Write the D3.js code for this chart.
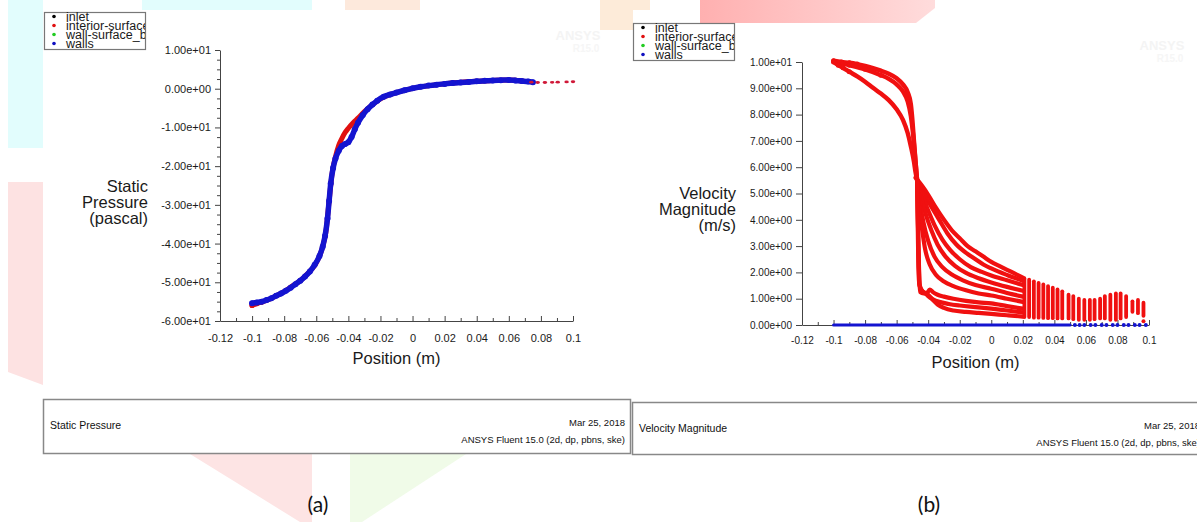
<!DOCTYPE html>
<html>
<head>
<meta charset="utf-8">
<script src="https://cdn.jsdelivr.net/npm/d3@7"></script>
<style>
  html, body { margin: 0; padding: 0; background: #fff; }
  svg { display: block; font-family: "Liberation Sans", Arial, sans-serif; }
</style>
</head>
<body>
<svg id="chart" width="1197" height="522"></svg>
<script>
(function() {
    'use strict';

    // ---- DATA ----
    const positionTicks = [-0.12, -0.1, -0.08, -0.06, -0.04, -0.02, 0, 0.02, 0.04, 0.06, 0.08, 0.1];
    const pressureTicks = [10, 0, -10, -20, -30, -40, -50, -60];
    const velocityTicks = [10, 9, 8, 7, 6, 5, 4, 3, 2, 1, 0];
    const legendNames = ["inlet", "interior-surface", "wall-surface_body", "walls"];
    const legendColors = ["#000000", "#e01010", "#22cc22", "#1010c0"];

    // (a) static pressure [position m, pressure Pa]
    const pressureInterior = [[-0.1,-56.0],[-0.097,-55.5],[-0.094,-55.1],[-0.09,-54.5],[-0.085,-53.5],[-0.08,-52.4],
        [-0.075,-51.0],[-0.07,-49.6],[-0.065,-47.6],[-0.06,-45.0],[-0.056,-40.8],[-0.054,-37],[-0.052,-29],
        [-0.05,-21.5],[-0.048,-17.5],[-0.046,-14.6],[-0.044,-12.8],[-0.042,-11.3],[-0.04,-10.2],[-0.037,-8.8],
        [-0.034,-7.6],[-0.03,-5.9],[-0.025,-4.1],[-0.02,-2.6],[-0.01,-1.0],[0,0.1],[0.02,1.25],[0.04,1.9],[0.06,2.25],[0.07,1.9]];
    const pressureInteriorTail = [[0.074,1.7],[0.078,1.6],[0.0825,1.6],[0.087,1.65],[0.0905,1.7],[0.096,1.75],[0.1,1.8]];
    const pressureWalls = [[-0.1,-55.4],[-0.097,-55.2],[-0.094,-55.0],[-0.091,-54.6],[-0.088,-54.1],[-0.085,-53.5],
        [-0.082,-52.9],[-0.079,-52.2],[-0.076,-51.4],[-0.073,-50.5],[-0.07,-49.6],[-0.067,-48.5],[-0.064,-47.2],
        [-0.061,-45.5],[-0.058,-43.2],[-0.056,-40.8],[-0.0545,-38],[-0.053,-33.5],[-0.052,-29],[-0.051,-24.5],
        [-0.0495,-20.5],[-0.048,-18],[-0.046,-16],[-0.044,-14.8],[-0.042,-14.3],[-0.04,-13.8],[-0.038,-12.5],
        [-0.036,-10.5],[-0.034,-8.8],[-0.031,-6.8],[-0.028,-5.3],[-0.025,-4.1],[-0.022,-3.1],[-0.018,-2.1],
        [-0.014,-1.5],[-0.01,-1.0],[-0.005,-0.4],[0,0.1],[0.005,0.5],[0.01,0.8],[0.015,1.05],[0.02,1.25],
        [0.025,1.45],[0.03,1.6],[0.035,1.75],[0.04,1.9],[0.045,2.05],[0.05,2.15],[0.055,2.2],[0.06,2.25],
        [0.064,2.15],[0.068,2.0],[0.072,1.85],[0.075,1.7]];

    // (b) velocity magnitude [position m, velocity m/s]
    const velUpperTop = [[-0.1,10.05],[-0.095,10.0],[-0.09,9.97],[-0.085,9.92],[-0.08,9.85],[-0.075,9.77],[-0.07,9.67],
        [-0.065,9.55],[-0.06,9.38],[-0.056,9.15],[-0.053,8.85],[-0.051,8.4],[-0.05,7.8],[-0.049,7.0],[-0.048,6.2],[-0.047,5.5]];
    const velUpperMid = [[-0.097,9.98],[-0.09,9.88],[-0.08,9.72],[-0.07,9.5],[-0.065,9.36],[-0.06,9.15],[-0.056,8.88],
        [-0.053,8.5],[-0.051,7.95],[-0.0495,7.2],[-0.048,6.2],[-0.047,5.5]];
    const velUpperInner = [[-0.1,10.0],[-0.097,9.88],[-0.094,9.78],[-0.09,9.63],[-0.085,9.45],[-0.08,9.25],[-0.075,9.02],
        [-0.07,8.8],[-0.065,8.55],[-0.06,8.2],[-0.056,7.8],[-0.053,7.3],[-0.051,6.8],[-0.049,6.2],[-0.048,5.8],[-0.047,5.5]];
    const velFan = [
        [[-0.048,5.6],[-0.044,5.3],[-0.04,4.95],[-0.035,4.45],[-0.03,4.0],[-0.025,3.6],[-0.02,3.3],[-0.015,3.0],[-0.01,2.8],[-0.005,2.6],[0,2.4],[0.005,2.25],[0.01,2.1],[0.015,1.95],[0.02,1.8]],
        [[-0.047,5.5],[-0.043,5.0],[-0.038,4.5],[-0.033,4.0],[-0.028,3.5],[-0.022,3.05],[-0.015,2.7],[-0.01,2.5],[-0.005,2.3],[0,2.15],[0.01,1.9],[0.02,1.68]],
        [[-0.047,5.5],[-0.044,5.0],[-0.04,4.35],[-0.036,3.8],[-0.031,3.25],[-0.026,2.85],[-0.02,2.5],[-0.013,2.2],[-0.006,2.02],[0,1.88],[0.01,1.7],[0.02,1.52]],
        [[-0.047,5.5],[-0.045,5.0],[-0.042,4.3],[-0.038,3.6],[-0.034,3.05],[-0.029,2.6],[-0.023,2.25],[-0.016,1.98],[-0.008,1.78],[0,1.62],[0.01,1.45],[0.02,1.3]],
        [[-0.047,5.5],[-0.045,4.6],[-0.043,3.9],[-0.04,3.2],[-0.036,2.6],[-0.031,2.2],[-0.025,1.92],[-0.018,1.7],[-0.01,1.52],[0,1.38],[0.01,1.22],[0.02,1.08]],
        [[-0.047,5.5],[-0.046,4.6],[-0.044,3.7],[-0.042,2.9],[-0.039,2.3],[-0.035,1.9],[-0.03,1.65],[-0.024,1.48],[-0.016,1.32],[-0.008,1.2],[0,1.12],[0.01,1.0],[0.02,0.88]],
        [[-0.047,5.5],[-0.0465,4.0],[-0.046,2.6],[-0.0455,1.6],[-0.045,1.25],[-0.043,1.2],[-0.041,1.2],[-0.039,1.35],[-0.037,1.25],[-0.034,1.15],[-0.03,1.08],[-0.024,1.0],[-0.016,0.92],[-0.008,0.86],[0,0.82],[0.01,0.72],[0.02,0.62]],
        [[-0.047,5.5],[-0.0465,3.9],[-0.046,2.4],[-0.0455,1.55],[-0.044,1.3],[-0.042,1.22],[-0.04,1.1],[-0.037,0.98],[-0.033,0.88],[-0.027,0.8],[-0.02,0.74],[-0.01,0.68],[0,0.62],[0.01,0.55],[0.02,0.48]],
        [[-0.047,5.5],[-0.0466,3.8],[-0.0462,2.2],[-0.0455,1.5],[-0.043,1.25],[-0.04,1.15],[-0.037,0.95],[-0.034,0.78],[-0.03,0.65],[-0.024,0.55],[-0.016,0.5],[-0.008,0.46],[0,0.42],[0.01,0.37],[0.02,0.32]]
    ];
    // stacked dot columns near the outlet
    const velColumnX      = [0.021,0.024,0.027,0.030,0.033,0.036,0.039,0.042,0.045,0.049,0.052,0.0555,0.059,0.0625,0.0655,0.069,0.072,0.0755,0.079,0.082,0.0855,0.0895,0.093,0.0965];
    const velColumnTop    = [1.78,1.72,1.66,1.6,1.54,1.48,1.42,1.35,1.28,1.15,1.1,1.0,0.95,0.95,0.95,1.0,1.1,1.15,1.2,1.2,1.1,0.9,0.95,0.85];
    const velColumnBottom = [0.3,0.3,0.28,0.28,0.27,0.26,0.26,0.25,0.25,0.25,0.22,0.2,0.2,0.2,0.22,0.25,0.25,0.2,0.2,0.25,0.3,0.5,0.45,0.35];
    const velInteriorDots = [[0.0965,0.14]];
    const velWallsLine = [[-0.1,0],[0.05,0]];
    const velWallsDots = [[0.053,0],[0.056,0],[0.059,0],[0.063,0],[0.066,0],[0.07,0],[0.073,0],[0.077,0],[0.08,0],[0.084,0],[0.087,0],[0.091,0],[0.094,0],[0.098,0]];

    const svg = d3.select("#chart");

    // ---- BACKGROUND WATERMARK SHAPES ----
    const defs = svg.append("defs");
    const grad = defs.append("linearGradient").attr("id", "pinkband").attr("x1", 0).attr("x2", 1);
    grad.append("stop").attr("offset", "0%").attr("stop-color", "#ffb0b0");
    grad.append("stop").attr("offset", "100%").attr("stop-color", "#ffdcdc");
    const shapes = [
        { pts: [[8,0],[43,0],[43,148],[8,148]], fill: "#e2fdfd" },
        { pts: [[142,0],[312,0],[312,10],[142,10]], fill: "#e2fdfd" },
        { pts: [[345,0],[420,0],[420,10],[345,10]], fill: "#fde9dc" },
        { pts: [[8,182],[43,182],[43,385],[8,372]], fill: "#fde2e2" },
        { pts: [[190,454],[312,454],[312,522],[300,522]], fill: "#fde4e4" },
        { pts: [[350,454],[466,454],[362,522],[350,522]], fill: "#f0fbe8" },
        { pts: [[600,0],[650,0],[650,10],[633,10],[633,30],[600,30]], fill: "#fdebd9" },
        { pts: [[700,0],[935,0],[935,8],[916,23],[700,23]], fill: "url(#pinkband)" }
    ];
    svg.append("g").selectAll("polygon").data(shapes).enter().append("polygon")
        .attr("points", d => d.pts.map(p => p.join(",")).join(" "))
        .attr("fill", d => d.fill);

    // faint ANSYS logos
    [[578, 40], [1162, 50]].forEach(([cx, cy]) => {
        svg.append("text").attr("x", cx).attr("y", cy).attr("text-anchor", "middle")
            .style("font", "bold 13px 'Liberation Sans'").style("fill", "#f4f4f4").text("ANSYS");
        svg.append("text").attr("x", cx + 8).attr("y", cy + 12).attr("text-anchor", "middle")
            .style("font", "bold 10px 'Liberation Sans'").style("fill", "#f6f6f6").text("R15.0");
    });

    // ---- HELPERS ----
    function sci(d) {
        return d3.format(".2e")(d).replace("\u2212", "-").replace(/e([+-])(\d)$/, "e$10$2");
    }
    function pos(d) { return String(+d.toFixed(2)); }

    function styleAxis(g, size) {
        g.selectAll("path, line").attr("stroke", "#444").attr("stroke-width", 1);
        g.selectAll("text").style("font-size", size + "px").style("fill", "#1a1a1a")
            .style("font-family", "'Liberation Sans', Arial, sans-serif");
    }

    function drawAxes(x, y, o) {
        const y0 = y.range()[0];
        const x0 = x.range()[0];
        // minor x ticks
        const gxm = svg.append("g").attr("transform", `translate(0,${y0})`)
            .call(d3.axisBottom(x).tickValues(d3.range(-0.11, 0.1, 0.02)).tickFormat("").tickSizeInner(-3).tickSizeOuter(0));
        gxm.select(".domain").remove();
        styleAxis(gxm, o.tickFont);
        const gx = svg.append("g").attr("transform", `translate(0,${y0})`)
            .call(d3.axisBottom(x).tickValues(positionTicks).tickFormat(pos)
                .tickSizeInner(-5).tickSizeOuter(0).tickPadding(o.xPad));
        styleAxis(gx, o.tickFont);

        if (o.yMinor) {
            const gym = svg.append("g").attr("transform", `translate(${x0},0)`)
                .call(d3.axisLeft(y).tickValues(o.yMinor).tickFormat("").tickSizeInner(3).tickSizeOuter(0));
            gym.select(".domain").remove();
            styleAxis(gym, o.tickFont);
        }
        const gy = svg.append("g").attr("transform", `translate(${x0},0)`)
            .call(d3.axisLeft(y).tickValues(o.yTicks).tickFormat(sci)
                .tickSizeInner(o.yTick).tickSizeOuter(0).tickPadding(4));
        styleAxis(gy, o.tickFont);

        // x title
        svg.append("text").attr("x", d3.mean(x.range())).attr("y", o.xTitleY)
            .attr("text-anchor", "middle").attr("dy", "0.35em")
            .style("font-size", "16.5px").style("fill", "#1a1a1a").text("Position (m)");
        // y title (three right-aligned lines)
        o.yTitle.forEach((t, i) => {
            svg.append("text").attr("x", o.yTitleX).attr("y", o.yTitleY + i * 16)
                .attr("text-anchor", "end").attr("dy", "0.35em")
                .style("font-size", "16.5px").style("fill", "#1a1a1a").text(t);
        });
    }

    function drawLegend(bx, by, id) {
        const w = 101, h = 37;
        defs.append("clipPath").attr("id", id).append("rect")
            .attr("x", bx).attr("y", by).attr("width", w).attr("height", h);
        const g = svg.append("g");
        g.append("rect").attr("x", bx + 0.5).attr("y", by + 0.5).attr("width", w).attr("height", h)
            .attr("fill", "#fff").attr("stroke", "#777").attr("stroke-width", 1.2);
        const items = g.append("g").attr("clip-path", `url(#${id})`);
        legendNames.forEach((name, i) => {
            const cy = by + 4.5 + i * 9;
            items.append("circle").attr("cx", bx + 10).attr("cy", cy).attr("r", 1.8).attr("fill", legendColors[i]);
            items.append("text").attr("x", bx + 22).attr("y", cy).attr("dy", "0.35em")
                .style("font-size", "12.5px").style("fill", "#1a1a1a").text(name);
        });
    }

    function drawTitleBox(x, y, w, h, title, right) {
        svg.append("rect").attr("x", x + 0.5).attr("y", y + 0.5).attr("width", w).attr("height", h)
            .attr("fill", "#fff").attr("stroke", "#888").attr("stroke-width", 1.5);
        svg.append("text").attr("x", x + 7).attr("y", y + 26).attr("dy", "0.35em")
            .style("font-size", "10.5px").style("fill", "#111").text(title);
        svg.append("text").attr("x", right).attr("y", y + 24).attr("dy", "0.35em").attr("text-anchor", "end")
            .style("font-size", "9.5px").style("fill", "#111").text("Mar 25, 2018");
        svg.append("text").attr("x", right).attr("y", y + 41).attr("dy", "0.35em").attr("text-anchor", "end")
            .style("font-size", "9.5px").style("fill", "#111").text("ANSYS Fluent 15.0 (2d, dp, pbns, ske)");
    }

    // ---- PANEL (a): STATIC PRESSURE ----
    const xP = d3.scaleLinear().domain([-0.12, 0.1]).range([220, 573]);
    const yP = d3.scaleLinear().domain([-60, 10]).range([321, 50]);
    const lineP = d3.line().x(d => xP(d[0])).y(d => yP(d[1])).curve(d3.curveMonotoneX);

    drawAxes(xP, yP, {
        tickFont: 11, xPad: 13, yTicks: pressureTicks, yTick: 5,
        yMinor: d3.range(-60, 10.01, 2.5).filter(v => v % 10 !== 0),
        xTitleY: 358, yTitle: ["Static", "Pressure", "(pascal)"], yTitleX: 148, yTitleY: 186
    });

    svg.append("path").datum(pressureInterior).attr("d", lineP)
        .attr("fill", "none").attr("stroke", "#e01010").attr("stroke-width", 5).attr("stroke-linecap", "round");
    svg.append("g").selectAll("circle").data(pressureInterior.slice(0, 3)).enter().append("circle")
        .attr("cx", d => xP(d[0])).attr("cy", d => yP(d[1])).attr("r", 2.6).attr("fill", "#e01010");
    svg.append("path").datum(pressureWalls).attr("d", lineP)
        .attr("fill", "none").attr("stroke", "#1414d0").attr("stroke-width", 5.5).attr("stroke-linecap", "round");
    svg.append("g").selectAll("circle").data(pressureWalls).enter().append("circle")
        .attr("cx", d => xP(d[0])).attr("cy", d => yP(d[1])).attr("r", 3).attr("fill", "#1414d0");
    svg.append("g").selectAll("ellipse").data(pressureInteriorTail).enter().append("ellipse")
        .attr("cx", d => xP(d[0])).attr("cy", d => yP(d[1])).attr("rx", 2.2).attr("ry", 1.4).attr("fill", "#d01838");

    drawLegend(44, 12, "legA");

    // ---- PANEL (b): VELOCITY MAGNITUDE ----
    const xV = d3.scaleLinear().domain([-0.12, 0.1]).range([802, 1149]);
    const yV = d3.scaleLinear().domain([0, 10]).range([325, 62]);
    const lineV = d3.line().x(d => xV(d[0])).y(d => yV(d[1])).curve(d3.curveMonotoneX);

    drawAxes(xV, yV, {
        tickFont: 10, xPad: 11.5, yTicks: velocityTicks, yTick: 6, yMinor: null,
        xTitleY: 362, yTitle: ["Velocity", "Magnitude", "(m/s)"], yTitleX: 736, yTitleY: 193
    });

    const red = "#f01010";
    [velUpperTop, velUpperMid, velUpperInner].forEach(s => {
        svg.append("path").datum(s).attr("d", lineV)
            .attr("fill", "none").attr("stroke", red).attr("stroke-width", 4.4).attr("stroke-linecap", "round");
        svg.append("g").selectAll("circle").data(s.slice(0, 4)).enter().append("circle")
            .attr("cx", d => xV(d[0])).attr("cy", d => yV(d[1])).attr("r", 2.5).attr("fill", red);
    });
    velFan.forEach(s => {
        svg.append("path").datum(s).attr("d", lineV)
            .attr("fill", "none").attr("stroke", red).attr("stroke-width", 4.2).attr("stroke-linecap", "round");
    });
    svg.append("g").selectAll("line").data(velColumnX).enter().append("line")
        .attr("x1", d => xV(d)).attr("x2", d => xV(d))
        .attr("y1", (d, i) => yV(velColumnBottom[i])).attr("y2", (d, i) => yV(velColumnTop[i]))
        .attr("stroke", red).attr("stroke-width", 3.8).attr("stroke-linecap", "round");
    svg.append("g").selectAll("circle").data(velInteriorDots).enter().append("circle")
        .attr("cx", d => xV(d[0])).attr("cy", d => yV(d[1])).attr("r", 2).attr("fill", red);

    svg.append("path").datum(velWallsLine).attr("d", lineV)
        .attr("fill", "none").attr("stroke", "#1414d0").attr("stroke-width", 3).attr("stroke-linecap", "round");
    svg.append("g").selectAll("circle").data(velWallsDots).enter().append("circle")
        .attr("cx", d => xV(d[0])).attr("cy", d => yV(d[1])).attr("r", 2).attr("fill", "#1414d0");

    drawLegend(633, 23, "legB");

    // ---- BOTTOM TITLE BOXES ----
    drawTitleBox(43, 399, 587, 54, "Static Pressure", 625);
    drawTitleBox(632, 402, 600, 52, "Velocity Magnitude", 1200);

    // ---- SUBFIGURE LABELS ----
    [["(a)", 318], ["(b)", 929]].forEach(([t, cx]) => {
        svg.append("text").attr("x", cx).attr("y", 512).attr("text-anchor", "middle")
            .style("font-family", "Lato, 'Open Sans', sans-serif").style("font-size", "21px")
            .style("fill", "#111").text(t);
    });
})();
</script>
</body>
</html>
